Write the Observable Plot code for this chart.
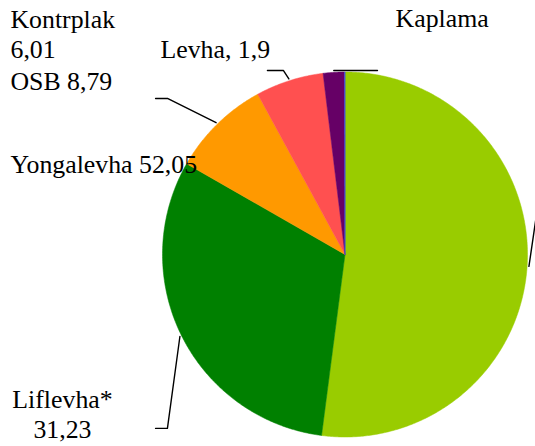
<!DOCTYPE html>
<html><head><meta charset="utf-8">
<script src="https://cdn.jsdelivr.net/npm/d3@7"></script>
<script src="https://cdn.jsdelivr.net/npm/@observablehq/plot@0.6"></script>
<style>
html,body{margin:0;padding:0;background:#fff;}
#chart svg{display:block;}
</style></head><body><div id="chart"></div>
<script>
// ---- data ----
const categories = ["Yongalevha", "Liflevha*", "OSB", "Kontrplak", "Levha", "Kaplama"];
const values = [52.05, 31.23, 8.79, 6.01, 1.9, 0.02];
const labelTexts = ["Yongalevha 52,05", "Liflevha*\n31,23", "OSB 8,79", "Kontrplak\n6,01", "Levha, 1,9", "Kaplama"];

// ---- styles ----
const colors = ["#99CC00", "#008000", "#FF9900", "#FF5050", "#660066", "#3366FF"];
const fontFamily = "Liberation Serif";
const fontSize = 25.8;

// ---- layout (pixels of the frame; pie radius is the unit of the scales) ----
const W = 535, H = 446, cx = 344.5, cy = 254, R = 182.5;
// label anchor positions, in pie-radius units relative to the centre
const labelLayout = [
  {x: -1.833, y: 0.449, anchor: "start"},   // Yongalevha
  {x: -1.548, y: -1.003, anchor: "middle"}, // Liflevha*
  {x: -1.833, y: 0.899, anchor: "start"},   // OSB
  {x: -1.833, y: 1.079, anchor: "start"},   // Kontrplak
  {x: -1.011, y: 1.079, anchor: "start"},   // Levha
  {x: 0.277, y: 1.244, anchor: "start"}     // Kaplama
];
// leader lines: start at the slice's mid-angle on the rim, then through elbows
const leaderLayout = [
  {slice: 0, pts: [[1.055, 0.258]]},
  {slice: 1, pts: [[-0.973, -0.953], [-1.038, -0.953]]},
  {slice: 2, pts: [[-0.973, 0.855], [-1.038, 0.855]]},
  {slice: 3, pts: [[-0.337, 1.008], [-0.425, 1.008]]},
  {slice: 4, pts: [[0.178, 1.008]]}
];

// ---- geometry ----
const arcs = d3.pie().sort(null).value(d => d)(values);
const slicePts = arcs.flatMap((a, i) => {
  const name = categories[i];
  const n = Math.max(2, Math.ceil((a.endAngle - a.startAngle) / (Math.PI / 360)));
  const pts = [{name, x: 0, y: 0}];
  for (let k = 0; k <= n; k++) {
    const t = a.startAngle + (a.endAngle - a.startAngle) * k / n;
    pts.push({name, x: Math.sin(t), y: Math.cos(t)});
  }
  pts.push({name, x: 0, y: 0});
  return pts;
});
const leaderPts = leaderLayout.flatMap((l, j) => {
  const a = arcs[l.slice];
  const m = (a.startAngle + a.endAngle) / 2;
  return [{id: j, x: 1.01 * Math.sin(m), y: 1.01 * Math.cos(m)},
          ...l.pts.map(([x, y]) => ({id: j, x, y}))];
});
const labels = labelTexts.map((t, i) => ({text: t, ...labelLayout[i]}));

const chart = Plot.plot({
  width: W, height: H,
  margin: 0,
  style: {background: "#fff"},
  x: {domain: [-cx / R, (W - cx) / R], range: [0, W], axis: null},
  y: {domain: [-(H - cy) / R, cy / R], range: [H, 0], axis: null},
  color: {domain: categories, range: colors},
  marks: [
    Plot.line(slicePts, {x: "x", y: "y", z: "name", fill: "name", stroke: "name", strokeWidth: 0.5, curve: "linear"}),
    Plot.line(leaderPts, {x: "x", y: "y", z: "id", stroke: "#000", strokeWidth: 1.4}),
    Plot.text(labels.filter(d => d.anchor === "start"), {x: "x", y: "y", text: "text", textAnchor: "start", lineAnchor: "bottom", lineHeight: 1.16, fontSize, fontFamily, fill: "#000"}),
    Plot.text(labels.filter(d => d.anchor === "middle"), {x: "x", y: "y", text: "text", textAnchor: "middle", lineAnchor: "bottom", lineHeight: 1.14, fontSize, fontFamily, fill: "#000"})
  ]
});
document.getElementById("chart").append(chart);
</script></body></html>
